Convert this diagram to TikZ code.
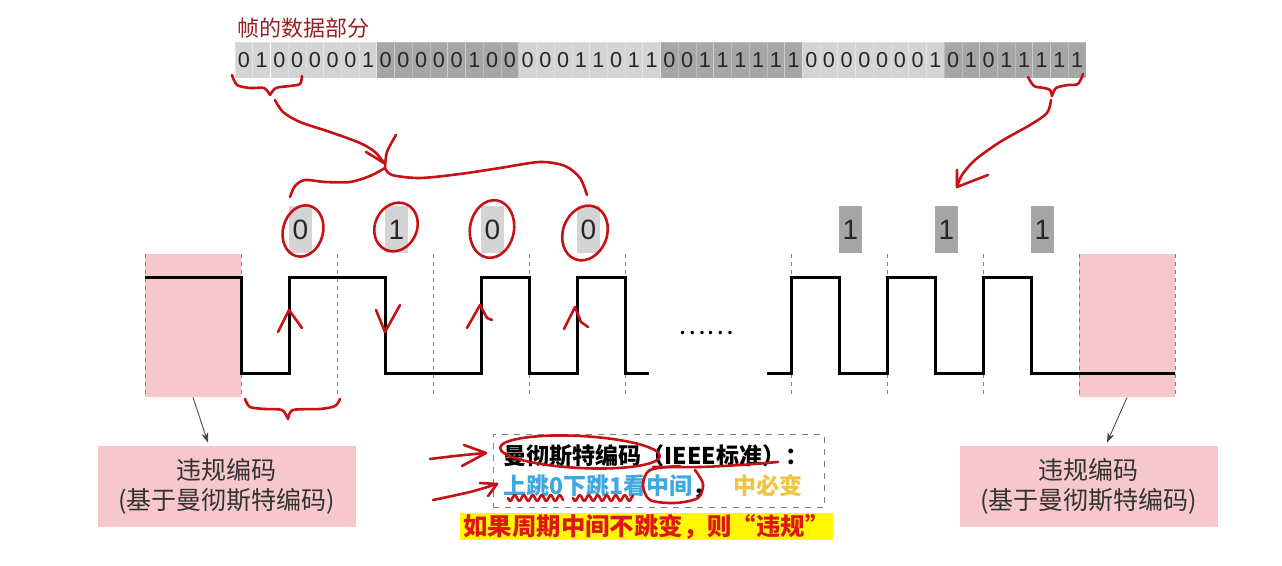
\documentclass[tikz,border=0pt]{standalone}
\usepackage{fontspec}
\setmainfont{Liberation Sans}
\newfontfamily\cjk{Noto Sans CJK SC}
\usetikzlibrary{arrows.meta,positioning}
\definecolor{pinkbg}{RGB}{246,200,203}
\definecolor{bitlight}{RGB}{212,212,214}
\definecolor{bitdark}{RGB}{166,166,168}
\definecolor{titlered}{RGB}{150,32,38}
\definecolor{inkred}{RGB}{196,18,22}
\definecolor{skyblue}{RGB}{62,168,226}
\definecolor{gold}{RGB}{240,196,64}
\definecolor{hlyellow}{RGB}{255,248,0}
\definecolor{alertred}{RGB}{222,22,22}

\begin{document}
\begin{tikzpicture}[x=0.5pt, y=-0.5pt,
  bitcell/.style={minimum width=8.86pt, minimum height=18pt, inner sep=0pt, text=black!85,
    draw=white, draw opacity=0.25, font=\fontsize{10.8}{12}\selectfont},
  lbl/.style={minimum width=11.5pt, minimum height=23.5pt, inner sep=0pt, text=black!85,
    font=\fontsize{14}{16}\selectfont},
  bad/.style={fill=pinkbg, minimum width=48pt, minimum height=71.5pt, inner sep=0pt},
  badbox/.style={fill=pinkbg, minimum width=129pt, minimum height=40.5pt, align=center,
    text=black!80, font=\cjk\fontsize{12.5}{15}\selectfont},
  celldash/.style={gray, dashed, dash pattern=on 2pt off 2pt, line width=0.5pt},
  wave/.style={line width=1.5pt},
  ink/.style={draw=inkred, line width=1.3pt, line cap=round, line join=round}]
  \useasboundingbox (0,0) rectangle (1282,566);
  \fill[white] (0,0) rectangle (1282,566);

  % frame data
  \node[anchor=west, inner sep=0pt, text=titlered, font=\cjk\fontsize{11}{13}\selectfont]
    (title) at (237,28) {帧的数据部分};
  \foreach \b [count=\i from 0] in {0,1,0,0,0,0,0,1, 0,0,0,0,0,1,0,0, 0,0,0,1,1,0,1,1,
      0,0,1,1,1,1,1,1, 0,0,0,0,0,0,0,1, 0,1,0,1,1,1,1,1} {
    \pgfmathtruncatemacro\g{mod(floor(\i/8),2)}
    \ifnum\g=0 \def\cc{bitlight}\else\def\cc{bitdark}\fi
    \node[bitcell, fill=\cc] (bit\i) at ({243.9+17.73*\i},60) {\b};
  }

  % violation cells
  \node[bad] (vl) at (193,325.5) {};
  \node[bad] (vr) at (1127,325.5) {};
  \foreach \x in {145,241,337,433,529,625,791,887,983,1079,1175}
    \draw[celldash] (\x,254) -- (\x,397);

  % bits above the signal
  \foreach \x/\v [count=\k] in {289/0,385/1,481/0,577/0}
    \node[lbl, fill=bitlight] (l\k) at (\x+11.5,229.5) {\v};
  \foreach \x [count=\k] in {839,935,1031}
    \node[lbl, fill=bitdark] (r\k) at (\x+11.5,229.5) {1};

  % signal
  \draw[wave] (145,278) -- (241,278) -- (241,374) -- (289,374) -- (289,278) -- (385,278)
    -- (385,374) -- (481,374) -- (481,278) -- (529,278) -- (529,374) -- (577,374)
    -- (577,278) -- (625,278) -- (625,374) -- (649,374);
  \draw[wave] (767,374) -- (791,374) -- (791,278) -- (839,278) -- (839,374) -- (887,374)
    -- (887,278) -- (935,278) -- (935,374) -- (983,374) -- (983,278) -- (1031,278)
    -- (1031,374) -- (1175,374);
  \node[font=\cjk\fontsize{13}{13}\selectfont, inner sep=0pt] (dots) at (706,333) {……};

  % boxes below
  \node[badbox] (bl) at (227,486.5) {违规编码\\(基于曼彻斯特编码)};
  \node[badbox] (br) at (1088.5,486.5) {违规编码\\(基于曼彻斯特编码)};
  \draw[-{Stealth[length=5pt,width=3.5pt]}, black!75, line width=0.4pt]
    (vl.south) -- ([xshift=-9.5pt,yshift=1.5pt]bl.north);
  \draw[-{Stealth[length=5pt,width=3.5pt]}, black!75, line width=0.4pt]
    (vr.south) -- ([xshift=9.25pt,yshift=1.5pt]br.north);

  \node[draw=gray, dashed, minimum width=165.5pt, minimum height=36pt, inner sep=5pt,
    text width=155pt, align=left, font=\cjk\bfseries\fontsize{11.5}{15}\selectfont]
    (std) at (658.5,471)
    {曼彻斯特编码（IEEE标准）：\\\textcolor{skyblue}{上跳0下跳1看中间}，\hspace{0.8em}\textcolor{gold}{中必变}};
  \node[fill=hlyellow, minimum width=186.5pt, minimum height=13.5pt, inner sep=0pt,
    text=alertred, font=\cjk\bfseries\fontsize{12.2}{14}\selectfont]
    (warn) at (646.5,526.5) {如果周期中间不跳变，则“违规”};

  % red pen marks
  \draw[ink] plot[smooth] coordinates {(232,75) (237,85) (250,88) (264,88) (270,95)};
  \draw[ink] plot[smooth] coordinates {(270,95) (276,88) (290,86) (300,84) (302,76)};
  \draw[ink] plot[smooth] coordinates {(275,100) (283,112) (300,122) (330,132) (360,143) (375,152) (384,163)};
  \draw[ink] (366,152) -- (384,163);
  \draw[ink] plot[smooth] coordinates {(396,135) (387,152) (385,168)};
  \draw[ink] plot[smooth] coordinates {(290,197) (295,186) (305,180) (325,182) (350,182) (370,176) (385,168)};
  \draw[ink] plot[smooth] coordinates {(385,168) (392,175) (420,178) (460,174) (500,168) (540,162) (565,166) (580,178) (587,195)};
  \draw[ink, rotate around={-15:(303,231)}] (303,231) ellipse [x radius=10pt, y radius=13pt];
  \draw[ink, rotate around={-25:(396,227)}] (396,227) ellipse [x radius=10.5pt, y radius=12.5pt];
  \draw[ink, rotate around={-10:(492,229)}] (492,229) ellipse [x radius=11pt, y radius=14.5pt];
  \draw[ink, rotate around={-20:(585,233)}] (585,233) ellipse [x radius=11pt, y radius=14pt];
  \draw[ink] plot[smooth] coordinates {(1028,77) (1034,86) (1044,88) (1050,90) (1052,96)};
  \draw[ink] plot[smooth] coordinates {(1052,96) (1056,88) (1068,85) (1078,84) (1083,74)};
  \draw[ink] plot[smooth] coordinates {(1051,100) (1047,113) (1030,125) (1000,142) (975,160) (962,175) (957,187)};
  \draw[ink] (957,170) -- (957,187) -- (988,175);
  \draw[ink] (278,332) -- (289,310) -- (302,328);
  \draw[ink] (376,310) -- (385,332) -- (400,305);
  \draw[ink] (467,328) -- (480,305) -- (487,318) -- (492,320);
  \draw[ink] (564,329) -- (575,307) -- (581,322) -- (588,327);
  \draw[ink] plot[smooth] coordinates {(245,399) (250,407) (265,409) (282,410) (288,419)};
  \draw[ink] plot[smooth] coordinates {(288,419) (293,410) (320,409) (335,406) (340,399)};
  \draw[ink] plot[smooth] coordinates {(430,459) (455,456) (485,453)};
  \draw[ink] (464,445) -- (486,453) -- (462,466);
  \draw[ink] plot[smooth] coordinates {(433,500) (470,492) (497,484)};
  \draw[ink] (480,483) -- (497,484) -- (488,496);
  \draw[ink, rotate around={-3:(580,452)}] (580,452) ellipse [x radius=40pt, y radius=8pt];
  \draw[ink] plot[smooth] coordinates {(653,467) (700,467) (740,465) (778,462)};
  \draw[ink] plot[smooth] coordinates {(680,466) (650,470) (643,485) (650,500) (675,503) (698,498) (703,484) (695,470)};
  \draw[ink] plot[domain=0:55, samples=45] ({508+\x},{498+3*sin(\x*40)});
  \draw[ink] plot[domain=0:60, samples=45] ({573+\x},{498+3*sin(\x*40)});
\end{tikzpicture}
\end{document}
